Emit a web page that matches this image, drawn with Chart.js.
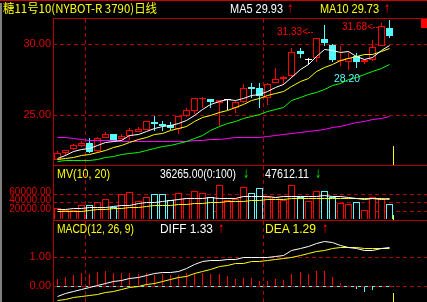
<!DOCTYPE html>
<html><head><meta charset="utf-8">
<script src="https://cdn.jsdelivr.net/npm/chart.js@4.4.1/dist/chart.umd.min.js"></script>
<style>
html,body{margin:0;padding:0;background:#000;overflow:hidden}
#wrap{position:relative;width:427px;height:302px;background:#000;overflow:hidden}
canvas{position:absolute;left:0}
.t{position:absolute;white-space:nowrap;transform-origin:0 50%;}
.ln{position:absolute;background:#b40000}
</style></head><body>
<div id="wrap">
  <canvas id="cMain" width="427" height="146" style="top:19px"></canvas>
  <canvas id="cVol" width="427" height="54" style="top:166px"></canvas>
  <canvas id="cMacd" width="427" height="81" style="top:221px"></canvas>
  <div class="ln" style="left:0;top:0;width:427px;height:1px;background:#d00000"></div>
  <div style="position:absolute;left:0;top:3px;width:2px;height:299px;background:#808080"></div>
  <div class="ln" style="left:53px;top:18px;width:374px;height:1px"></div>
  <div class="ln" style="left:53px;top:165px;width:374px;height:1px"></div>
  <div class="ln" style="left:53px;top:220px;width:374px;height:1px"></div>
  <div class="ln" style="left:53px;top:18px;width:1px;height:284px"></div>
  <div style="position:absolute;left:421px;top:19px;width:6px;height:9px;background:#ff0000"></div>
</div>
<script>
// ---------- data ----------
const titleText = '糖11号10(NYBOT-R 3790)日线';
const open  = [21.85,22.34,22.63,22.82,23.05,22.49,23.42,23.66,23.33,23.56,23.85,23.96,24.51,24.37,24.32,24.04,24.93,25.30,26.15,26.15,25.87,26.10,25.54,25.92,26.99,26.90,26.20,27.27,27.56,27.75,29.53,28.87,29.06,30.37,29.95,28.85,28.77,29.20,28.77,28.87,29.90,31.13];
const high  = [22.52,22.58,23.00,23.19,23.38,23.47,23.80,23.68,23.66,24.13,24.18,24.62,24.93,24.60,24.51,24.95,25.54,26.25,26.26,26.16,26.08,26.12,26.00,27.20,27.27,27.27,27.25,28.31,27.75,29.72,29.72,29.06,30.45,31.33,30.00,29.86,29.44,29.39,28.95,30.32,31.50,31.68];
const low   = [21.82,22.11,22.56,22.80,22.35,22.45,23.40,23.19,23.30,23.24,23.80,23.94,23.89,23.89,23.94,23.66,24.90,25.11,25.49,25.54,24.23,25.39,25.18,25.90,26.24,25.49,25.73,27.25,27.13,27.70,29.01,28.54,28.73,29.90,28.75,28.45,28.20,28.31,28.63,28.85,29.88,30.46];
const close = [22.32,22.54,22.91,23.05,22.39,23.38,23.66,23.19,23.56,23.94,24.04,24.58,24.37,24.23,24.13,24.93,25.39,26.20,26.24,25.96,26.06,26.10,25.96,26.94,26.85,26.34,27.23,27.56,27.70,29.44,29.34,28.87,30.42,30.09,28.92,28.92,29.01,28.73,28.92,29.81,31.27,30.61];
const ma5  = [21.98,22.17,22.42,22.58,22.64,22.85,23.08,23.13,23.24,23.55,23.68,23.86,24.10,24.23,24.27,24.45,24.61,24.98,25.38,25.74,25.97,26.11,26.06,26.20,26.38,26.44,26.66,26.98,27.14,27.65,28.25,28.58,29.15,29.63,29.53,29.44,29.47,29.13,28.90,29.08,29.55,29.93];
const ma10 = [21.89,21.97,22.06,22.15,22.27,22.39,22.54,22.70,22.87,23.09,23.27,23.47,23.62,23.73,23.91,24.06,24.24,24.54,24.81,25.01,25.21,25.36,25.52,25.79,26.06,26.20,26.39,26.52,26.67,27.02,27.35,27.62,28.07,28.38,28.59,28.85,29.03,29.14,29.27,29.30,29.50,29.73];
const ma20 = [21.78,21.80,21.80,21.82,21.85,21.92,22.03,22.13,22.24,22.31,22.39,22.52,22.65,22.77,22.86,23.01,23.19,23.37,23.59,23.95,24.18,24.39,24.56,24.74,24.93,25.09,25.25,25.44,25.58,26.01,26.22,26.43,26.64,26.82,27.10,27.27,27.49,27.66,27.84,28.08,28.33,28.61];
const ma60 = [23.45,23.42,23.38,23.33,23.25,23.23,23.21,23.20,23.19,23.18,23.17,23.17,23.17,23.17,23.17,23.17,23.18,23.20,23.25,23.30,23.33,23.37,23.42,23.45,23.45,23.45,23.54,23.56,23.65,23.73,23.82,23.87,23.96,24.03,24.11,24.18,24.34,24.48,24.58,24.69,24.79,24.95];
const vol     = [25650,21650,22350,32240,32240,39770,47530,27530,60470,63300,43000,52240,58590,58590,46350,61650,49180,66350,61650,51060,80470,45180,47530,75770,61650,72710,52240,52240,45180,80470,52240,42820,66350,66350,53410,38120,35060,39770,20940,51530,50590,36265];
const volMa10 = [22820,24000,24710,25650,26820,27060,28000,29650,31060,33410,35770,38590,40000,41410,44470,46350,47530,48470,49410,50350,49880,49180,49180,52240,52240,52240,52240,51060,52240,53880,53880,53880,53880,55060,53880,52240,50590,49180,46350,47530,46820,47612.11];
const volMa20 = [17880,18350,18820,19290,20470,21880,23530,24940,26350,27530,28470,29880,31060,32000,33410,34350,35530,36000,36940,39300,40000,40710,41410,42820,44240,44940,45410,45880,46590,47530,47530,47530,47530,48470,49180,49180,49180,49180,49180,48710,47530,45880];
const diff = [-0.36,-0.27,-0.19,-0.11,-0.04,0.02,0.09,0.14,0.20,0.25,0.30,0.37,0.44,0.47,0.48,0.51,0.60,0.75,0.83,0.87,0.89,0.90,0.90,0.97,0.97,0.97,0.98,1.02,1.06,1.22,1.29,1.37,1.47,1.53,1.50,1.40,1.33,1.28,1.22,1.21,1.29,1.33];
const dea  = [-0.50,-0.45,-0.41,-0.36,-0.32,-0.28,-0.23,-0.18,-0.13,-0.05,0.00,0.05,0.10,0.16,0.22,0.28,0.34,0.42,0.50,0.58,0.66,0.72,0.76,0.79,0.83,0.86,0.88,0.90,0.94,0.99,1.04,1.12,1.19,1.24,1.28,1.32,1.33,1.33,1.30,1.29,1.29,1.29];
const macd = [0.25,0.32,0.37,0.44,0.41,0.48,0.51,0.46,0.46,0.46,0.41,0.46,0.39,0.41,0.37,0.37,0.44,0.46,0.46,0.41,0.41,0.34,0.23,0.28,0.28,0.16,0.16,0.23,0.21,0.41,0.48,0.41,0.53,0.53,0.32,0.11,0.02,-0.09,-0.21,-0.14,-0.02,0.05];
const priceTicks = [25, 30];
const volTicks = [20000, 40000, 60000];
const macdTicks = [0, 1];
const monthStarts = [4, 26];     // first bar of a new month (vertical dashed separators)
const highMarks = [33, 41];      // bars whose high is annotated
const lowMarks = [36];           // bar whose low is annotated

// ---------- pixel-snapping variants of the library's linear scale ----------
class SnapIntScale extends Chart.LinearScale {
  getPixelForValue(v){ const p = super.getPixelForValue(v); return isNaN(p) ? p : Math.round(p); }
}
SnapIntScale.id = 'snapint'; SnapIntScale.defaults = Chart.LinearScale.defaults;
class SnapHalfScale extends Chart.LinearScale {
  getPixelForValue(v){ const p = super.getPixelForValue(v); return isNaN(p) ? p : Math.floor(p) + 0.5; }
}
SnapHalfScale.id = 'snaphalf'; SnapHalfScale.defaults = Chart.LinearScale.defaults;
Chart.register(SnapIntScale, SnapHalfScale);

// ---------- styles ----------
const RED='#ff0000', CYAN='#54fcfc', WHITE='#ffffff', YEL='#ffff00', GRN='#00ff00', MAG='#ff00ff';
const GRID='#b00000', AXT='#e00000';
const N = close.length, last = N - 1;
const idx = close.map((_, i) => i);
const pts = arr => arr.map((v, i) => ({x: i, y: v}));
const dir = i => close[i] > open[i] ? 1 : (close[i] < open[i] ? -1 : 0);
const cCol = i => dir(i) > 0 ? RED : (dir(i) < 0 ? CYAN : WHITE);

const X = {type:'snaphalf', min:-0.5, max:374/8.1 - 0.5, display:false, offset:false};
function yAxis(min, max, ticks, size, labelOffset){
  return {type:'snapint', min, max, position:'left',
    afterFit(s){ s.width = 53; s.paddingTop = 0; s.paddingBottom = 0; },
    afterBuildTicks(s){ s.ticks = ticks.map(v => ({value:v})); },
    ticks:{color:AXT, font:{family:'Liberation Sans', size}, padding:2, autoSkip:false,
           callback:v => Number(v).toFixed(2), labelOffset: labelOffset || 0},
    grid:{color:GRID, lineWidth:1, drawTicks:false},
    border:{display:false, dash:[4,3]}
  };
}
const yLines = (min, max) => ({type:'snaphalf', min, max, display:false});
const line = (arr, color) => ({type:'line', data:pts(arr), yAxisID:'y2', borderColor:color, borderWidth:1,
  pointRadius:0, tension:0, order:0});

function deco(kind){
  return {
    id:'deco_'+kind,
    beforeDraw(chart){
      if (kind !== 'macd') return;
      const {ctx, chartArea:a, scales:{x, y}} = chart;
      const y0 = y.getPixelForValue(0) + 0.5;
      ctx.save(); ctx.strokeStyle = CYAN; ctx.lineWidth = 1;
      ctx.beginPath(); ctx.moveTo(a.left, y0); ctx.lineTo(x.getPixelForValue(last + 0.5), y0); ctx.stroke();
      ctx.restore();
    },
    beforeDatasetsDraw(chart){
      const {ctx, chartArea:a, scales:{x}} = chart;
      ctx.save(); ctx.strokeStyle = GRID; ctx.lineWidth = 1; ctx.setLineDash([4,3]);
      monthStarts.forEach(m => {
        const px = x.getPixelForValue(m - 0.5);
        ctx.beginPath(); ctx.moveTo(px, a.top); ctx.lineTo(px, a.bottom); ctx.stroke();
      });
      ctx.restore();
    },
    afterDatasetsDraw(chart){
      const {ctx, chartArea:a, scales:{x, y}} = chart;
      ctx.save();
      const cx = x.getPixelForValue(last + 0.5);
      const len = kind === 'main' ? 19 : (kind === 'vol' ? 5 : 9);
      ctx.strokeStyle = YEL; ctx.lineWidth = 1;
      ctx.beginPath(); ctx.moveTo(cx, a.bottom - len); ctx.lineTo(cx, a.bottom); ctx.stroke();
      if (kind === 'main') {
        ctx.font = '11px "Liberation Sans"'; ctx.textBaseline = 'middle';
        highMarks.forEach(i => {
          const px = x.getPixelForValue(i), py = y.getPixelForValue(high[i]) + 7;
          const tip = Math.round(px - 12), end = tip - 5;
          const s = high[i].toFixed(2) + '<';
          const w = ctx.measureText(s).width, tw = 31;
          ctx.save(); ctx.translate(end - tw, py); ctx.scale(tw / w, 1);
          ctx.fillStyle = RED; ctx.textAlign = 'left'; ctx.fillText(s, 0, 0); ctx.restore();
          ctx.strokeStyle = RED; ctx.setLineDash([2,1]);
          ctx.beginPath(); ctx.moveTo(end, py + 0.5); ctx.lineTo(tip, py + 0.5); ctx.stroke();
          ctx.setLineDash([]);
        });
        lowMarks.forEach(i => {
          const px = x.getPixelForValue(i) - 1.5, py = y.getPixelForValue(low[i]) + 8.5;
          const s = low[i].toFixed(2);
          const w = ctx.measureText(s).width, tw = 26;
          ctx.save(); ctx.translate(px - tw / 2, py); ctx.scale(tw / w, 1);
          ctx.fillStyle = CYAN; ctx.textAlign = 'left'; ctx.fillText(s, 0, 0); ctx.restore();
        });
      }
      ctx.restore();
    }
  };
}
const base = {animation:false, responsive:false, devicePixelRatio:1,
  layout:{padding:0}, plugins:{legend:{display:false}, tooltip:{enabled:false}}};

const pMin = 25 - 49.7/14.2, pMax = 30 + 25.3/14.2;
new Chart(document.getElementById('cMain'), {
  type:'bar',
  data:{datasets:[
    line(ma5, WHITE), line(ma10, YEL), line(ma20, GRN), line(ma60, MAG),
    {type:'bar', data: idx.map(i => ({x:i, y:[open[i], close[i]]})),
     backgroundColor: idx.map(i => dir(i) > 0 ? '#000000' : cCol(i)),
     borderColor: idx.map(cCol), borderWidth: idx.map(i => dir(i) === 0 ? 0 : 1),
     borderSkipped:false, barThickness:7, grouped:false, minBarLength:1, inflateAmount:0, order:1},
    {type:'bar', data: idx.map(i => ({x:i, y:[low[i], high[i]]})),
     backgroundColor: idx.map(cCol), borderWidth:0, barThickness:1, grouped:false, inflateAmount:0, order:2}
  ]},
  options:{...base, scales:{x:X, y:yAxis(pMin, pMax, priceTicks, 11), y2:yLines(pMin, pMax)}},
  plugins:[deco('main')]
});

const vMin = -0.8/8.5*20000, vMax = 53.2/8.5*20000;
new Chart(document.getElementById('cVol'), {
  type:'bar',
  data:{datasets:[
    line(volMa10, WHITE), line(volMa20, YEL),
    {type:'bar', data: pts(vol), backgroundColor:'#000000',
     borderColor: idx.map(i => dir(i) >= 0 ? RED : CYAN), borderWidth:1,
     barThickness:7, grouped:false, inflateAmount:0, order:1}
  ]},
  options:{...base, scales:{x:X, y:yAxis(vMin, vMax, volTicks, 10, -2), y2:yLines(vMin, vMax)}},
  plugins:[deco('vol')]
});

const mMin = -16/29, mMax = 65/29;
new Chart(document.getElementById('cMacd'), {
  type:'bar',
  data:{datasets:[
    line(diff, WHITE), line(dea, YEL),
    {type:'bar', data: pts(macd), backgroundColor: macd.map(v => v >= 0 ? RED : CYAN),
     borderWidth:0, barThickness:1, grouped:false, inflateAmount:0, order:1}
  ]},
  options:{...base, scales:{x:X, y:yAxis(mMin, mMax, macdTicks, 11), y2:yLines(mMin, mMax)}},
  plugins:[deco('macd')]
});

// ---------- header texts (real DOM text) ----------
const wrap = document.getElementById('wrap');
function addText(t, x, yc, w, color, size, family){
  const s = document.createElement('span');
  s.className = 't'; s.textContent = t;
  s.style.left = x + 'px'; s.style.top = (yc - size / 2) + 'px';
  s.style.font = size + 'px/' + size + 'px ' + family; s.style.color = color;
  wrap.appendChild(s);
  const nat = s.getBoundingClientRect().width;
  if (w && nat > 0) s.style.transform = 'scaleX(' + (w / nat) + ')';
}
const LS = '"Liberation Sans", sans-serif', DJ = '"DejaVu Sans", sans-serif';
addText(titleText, 3, 8, 154, YEL, 12, '"Noto Sans CJK SC", sans-serif');
addText('MA5 ' + ma5[last].toFixed(2), 230, 9, 53, WHITE, 12, LS);
addText('↑', 287, 9, 6, RED, 12, DJ);
addText('MA10 ' + ma10[last].toFixed(2), 320, 9, 59, YEL, 12, LS);
addText('↑', 384, 9, 6, RED, 12, DJ);
addText('MV(10, 20)', 57, 173.5, 53, YEL, 12, LS);
addText(vol[last].toFixed(2) + '(0:100)', 160, 173.5, 76, WHITE, 12, LS);
addText('↓', 243, 173.5, 6, '#00e000', 12, DJ);
addText(volMa10[last].toFixed(2), 265, 173.5, 44, WHITE, 12, LS);
addText('↓', 315, 173.5, 6, '#00e000', 12, DJ);
addText('MACD(12, 26, 9)', 57, 229, 77, YEL, 12, LS);
addText('DIFF  ' + diff[last].toFixed(2), 160, 229, 53, WHITE, 12, LS);
addText('↑', 218, 229, 6, RED, 12, DJ);
addText('DEA  ' + dea[last].toFixed(2), 265, 229, 51, YEL, 12, LS);
addText('↑', 322, 229, 6, RED, 12, DJ);
</script>
</body></html>
